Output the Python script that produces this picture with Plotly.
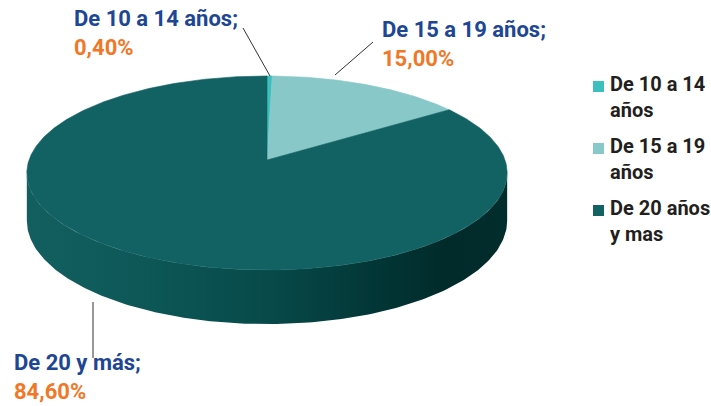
import numpy as np
import plotly.graph_objects as go

# ---- data ----
categories = ["De 10 a 14 años", "De 15 a 19 años", "De 20 años y mas"]
values = [0.40, 15.00, 84.60]
label_names = ["De 10 a 14 años;", "De 15 a 19 años;", "De 20 y más;"]
label_values = ["0,40%", "15,00%", "84,60%"]
legend_lines = [["De 10 a 14", "años"], ["De 15 a 19", "años"], ["De 20 años", "y mas"]]
slice_colors = ["#3dbfc0", "#88c8c9", "#136263"]

# ---- geometry of the 3D pie (pixel-like coordinates) ----
CX, CY, RX, RY, C, DEPTH = 267, 160, 238, 95.3, 0.134, 46.8
FONT = "Roboto, Liberation Sans, Arial, sans-serif"
BLUE = "#1d4694"
ORANGE = "#f07828"
DARK = "#231f20"


def proj(theta_deg, drop=0.0):
    t = np.radians(theta_deg)
    u, v = np.sin(t), np.cos(t)
    s = 1.0 / (1.0 + C * v)
    return CX + RX * u * s, CY - RY * v * s + DEPTH * s * drop


fig = go.Figure()

# side wall (front, visible part)
t_lo = np.degrees(np.arccos(-C))
t_hi = 360 - t_lo
th = np.linspace(t_lo, t_hi, 200)
xt, yt = proj(th)
xb, yb = proj(th[::-1], 1.0)
fig.add_trace(go.Scatter(
    x=np.concatenate([xt, xb]), y=np.concatenate([yt, yb]),
    fill="toself", mode="lines", line=dict(width=0, color="#0b5050"),
    fillgradient=dict(type="horizontal", colorscale=[
        [0.0, "#135f5f"], [0.25, "#0d5757"], [0.5, "#084a4a"],
        [0.75, "#023434"], [0.88, "#012a2a"], [1.0, "#022d2d"]]),
    hoverinfo="skip", showlegend=False))

# top face slices
total = sum(values)
start = 0.0
for name, val, col in zip(categories, values, slice_colors):
    a0 = start / total * 360
    a1 = (start + val) / total * 360
    n = max(4, int((a1 - a0) * 2))
    ang = np.linspace(a0, a1, n)
    ex, ey = proj(ang)
    fig.add_trace(go.Scatter(
        x=np.concatenate([[CX], ex, [CX]]), y=np.concatenate([[CY], ey, [CY]]),
        fill="toself", mode="lines", line=dict(width=0.6, color=col),
        fillcolor=col, name=name, text=f"{name}: {val:.2f}%",
        hoverinfo="text", showlegend=False))
    start += val

# leader lines
leaders = [(270, 76, 243, 28), (335, 75, 373, 42), (93, 302, 93, 358)]
shapes = [dict(type="line", xref="x", yref="y", x0=a, y0=b, x1=c, y1=d,
               line=dict(color="#333333", width=1)) for a, b, c, d in leaders]

# legend squares
leg_y0 = [81, 143, 205]
for col, y0 in zip(slice_colors, leg_y0):
    shapes.append(dict(type="rect", xref="x", yref="y", x0=593, x1=604,
                       y0=y0, y1=y0 + 11, fillcolor=col, line=dict(width=0)))

annotations = []
label_pos = [(72, 33), (380, 44), (12, 377)]
for (x, y), nm, pv in zip(label_pos, label_names, label_values):
    annotations.append(dict(
        x=x, y=y, xref="x", yref="y",
        text=f"{nm}<br><span style='color:{ORANGE}'>{pv}</span>",
        showarrow=False, xanchor="left", yanchor="middle", align="left",
        font=dict(family=FONT, size=22, color=BLUE, weight="bold")))

for lines, y0 in zip(legend_lines, leg_y0):
    annotations.append(dict(
        x=608, y=y0 + 16, xref="x", yref="y", text="<br>".join(lines),
        showarrow=False, xanchor="left", yanchor="middle", align="left",
        font=dict(family=FONT, size=20, color=DARK, weight="bold")))

fig.update_layout(
    width=711, height=406, margin=dict(l=0, r=0, t=0, b=0),
    paper_bgcolor="white", plot_bgcolor="white", showlegend=False,
    xaxis=dict(range=[0, 711], visible=False, fixedrange=True),
    yaxis=dict(range=[406, 0], visible=False, fixedrange=True),
    shapes=shapes, annotations=annotations,
)

fig.write_html("out.html", config={"displayModeBar": False},
               post_script="document.body.style.margin='0';")
